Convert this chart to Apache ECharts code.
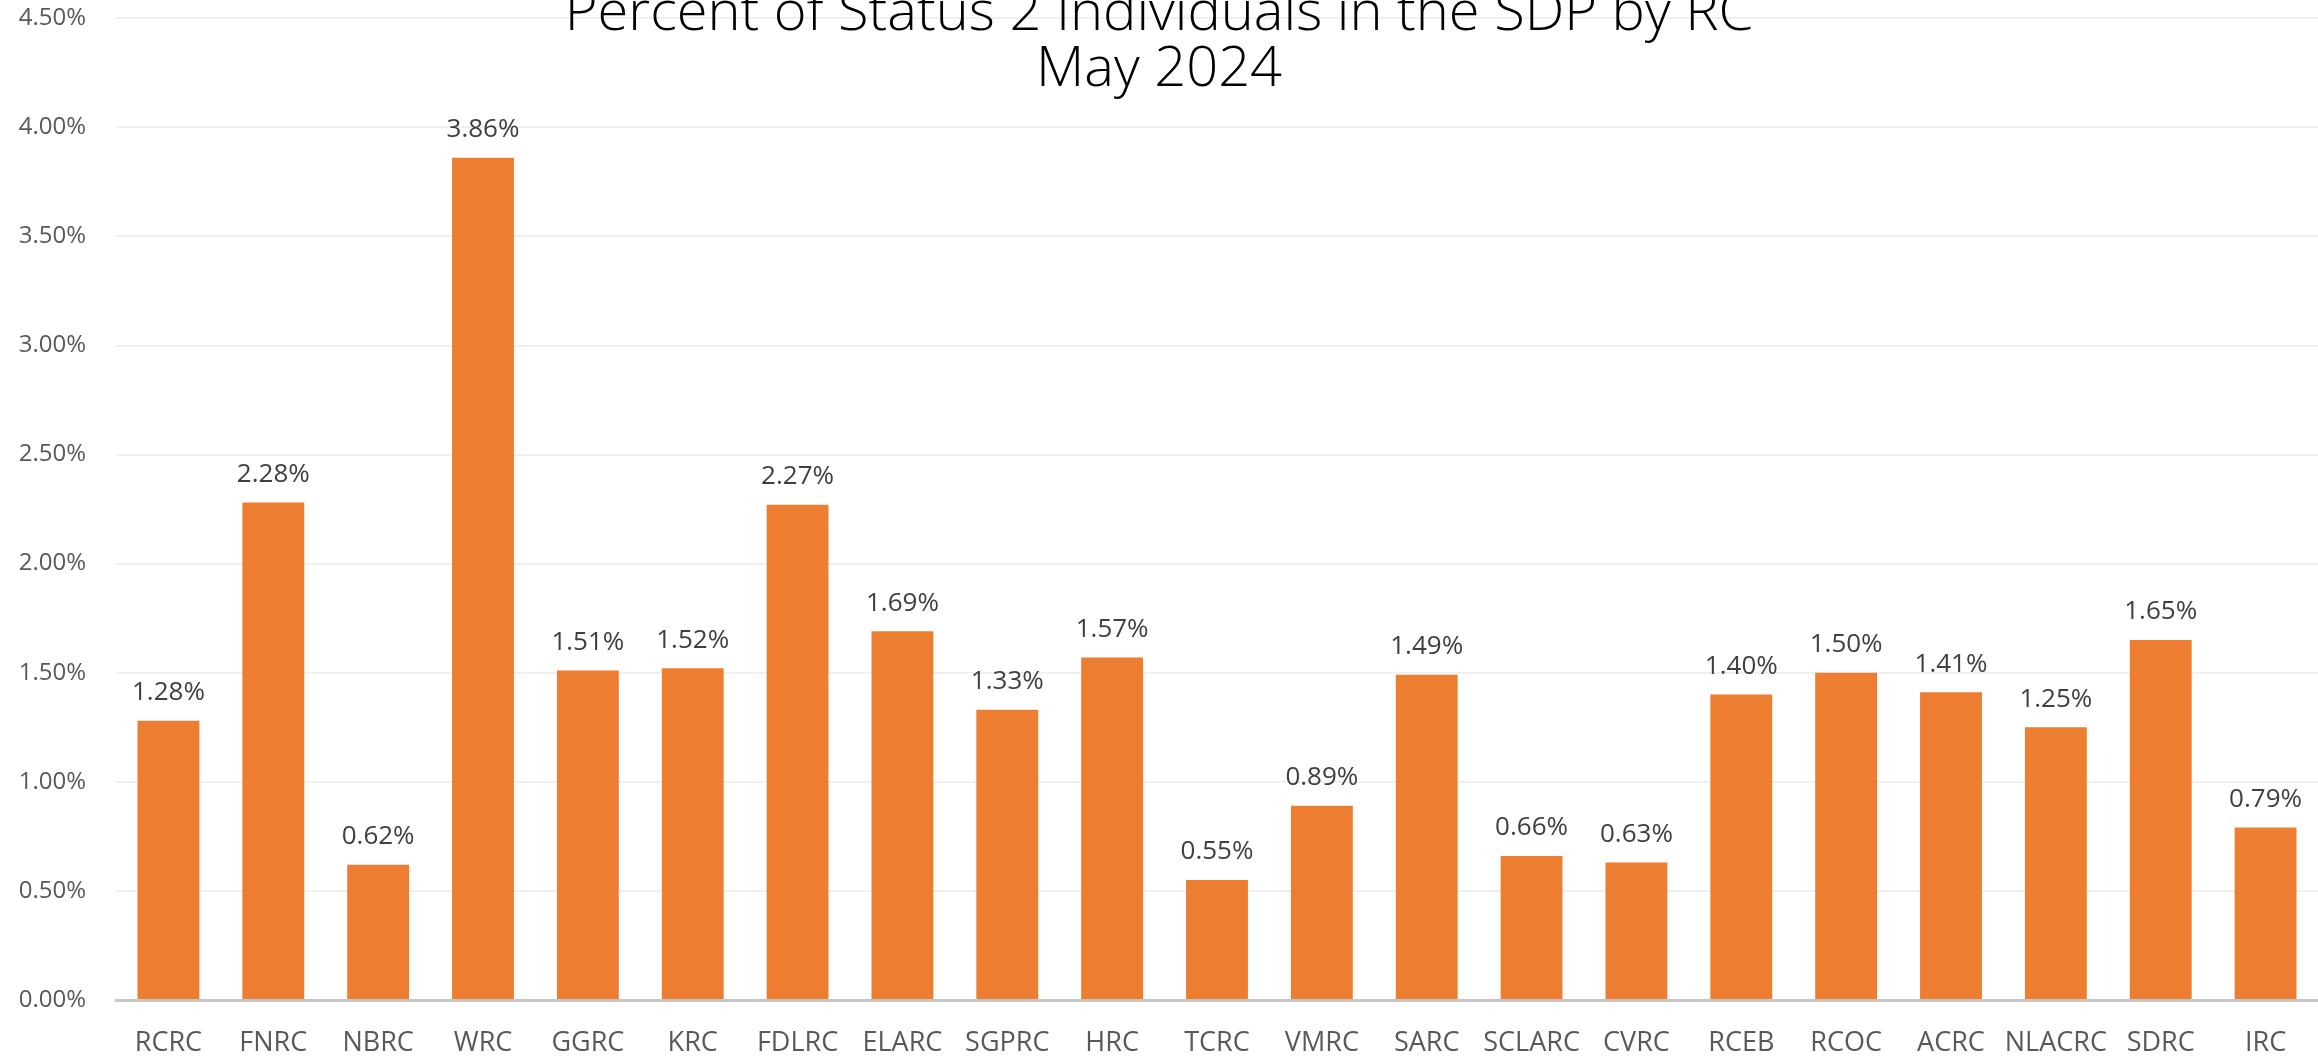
<!DOCTYPE html>
<html>
<head>
<meta charset="utf-8">
<script src="https://cdn.jsdelivr.net/npm/echarts@6/dist/echarts.min.js"></script>
<style>
html,body{margin:0;padding:0;background:#fff;}
#c{width:2318px;height:1057px;}
</style>
</head>
<body>
<div id="c"></div>
<script>
const titleLines = ["Percent of Status 2 Individuals in the SDP by RC", "May 2024"];
const categories = ["RCRC","FNRC","NBRC","WRC","GGRC","KRC","FDLRC","ELARC","SGPRC","HRC","TCRC","VMRC","SARC","SCLARC","CVRC","RCEB","RCOC","ACRC","NLACRC","SDRC","IRC"];
const percentValues = [1.28,2.28,0.62,3.86,1.51,1.52,2.27,1.69,1.33,1.57,0.55,0.89,1.49,0.66,0.63,1.40,1.50,1.41,1.25,1.65,0.79];
const yTicks = {min: 0, max: 4.5, interval: 0.5};

const chart = echarts.init(document.getElementById('c'), null, {renderer: 'canvas'});
chart.setOption({
  animation: false,
  backgroundColor: '#ffffff',
  title: {
    text: titleLines.join('\n'),
    left: 'center',
    top: -19,
    textStyle: {
      fontFamily: 'Open Sans',
      fontWeight: 300,
      fontSize: 56,
      lineHeight: 56,
      color: '#000000'
    }
  },
  grid: {left: 116, top: 18, height: 983, width: 2209, containLabel: false},
  xAxis: {
    type: 'category',
    data: categories,
    axisTick: {show: false},
    axisLine: {show: true, lineStyle: {color: '#c6c6c6', width: 3}},
    axisLabel: {
      margin: 30,
      fontFamily: 'Open Sans',
      fontSize: 27,
      color: '#595959',
      interval: 0
    },
    z: 5
  },
  yAxis: {
    type: 'value',
    min: yTicks.min,
    max: yTicks.max,
    interval: yTicks.interval,
    axisLine: {show: false},
    axisTick: {show: false},
    axisLabel: {
      margin: 30,
      fontFamily: 'Open Sans',
      fontSize: 24,
      color: '#595959',
      formatter: v => v.toFixed(2) + '%'
    },
    splitLine: {lineStyle: {color: '#ebebeb', width: 1.5}}
  },
  series: [{
    type: 'bar',
    data: percentValues,
    barWidth: '59%',
    itemStyle: {color: '#ED7D31'},
    label: {
      show: true,
      position: 'top',
      distance: 15,
      fontFamily: 'Open Sans',
      fontSize: 26,
      color: '#404040',
      formatter: p => p.value.toFixed(2) + '%'
    }
  }]
});
</script>
</body>
</html>
